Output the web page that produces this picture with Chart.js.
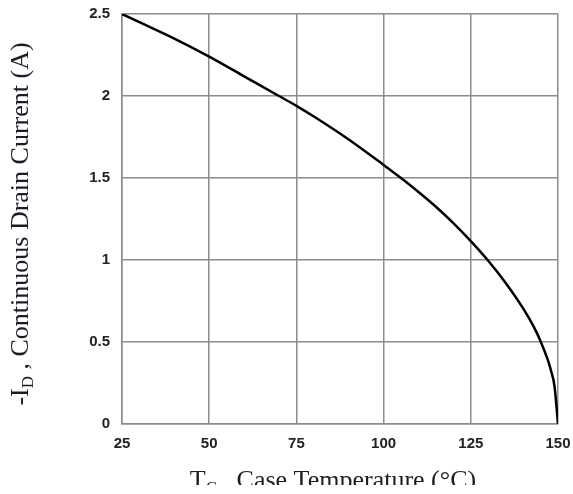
<!DOCTYPE html>
<html>
<head>
<meta charset="utf-8">
<script src="https://cdn.jsdelivr.net/npm/chart.js@4/dist/chart.umd.min.js"></script>
<style>
    html, body { margin: 0; padding: 0; background: #fff; }
    #wrap { width: 573px; height: 494px; }
</style>
</head>
<body>
<div id="wrap"><canvas id="chart" width="573" height="494"></canvas></div>
<script>
// Valeurs
const temperatures = [25, 30, 40, 50, 60, 70, 75, 80, 90, 100, 105, 110, 115, 120, 125, 130, 135, 140, 143, 145, 147, 148, 149, 150];
const drainCurrent = [2.5, 2.45, 2.35, 2.24, 2.12, 2.0, 1.94, 1.875, 1.735, 1.58, 1.5, 1.415, 1.325, 1.225, 1.115, 0.995, 0.86, 0.705, 0.595, 0.505, 0.395, 0.325, 0.23, 0];
const xTicks = [25, 50, 75, 100, 125, 150];
const yTicks = [0, 0.5, 1, 1.5, 2, 2.5];

const serif = '"Liberation Serif", "Times New Roman", serif';

// Titres d'axes avec indices (D, C)
const axisTitles = {
    id: 'axisTitles',
    afterDraw(chart) {
        const ctx = chart.ctx;
        ctx.save();
        ctx.fillStyle = '#1c1c28';
        ctx.textBaseline = 'alphabetic';
        ctx.textAlign = 'left';

        const drawTitle = (main, sub, rest, size) => {
            const subSize = Math.round(size * 0.65);
            ctx.font = size + 'px ' + serif;
            const w1 = ctx.measureText(main).width;
            const w3 = ctx.measureText(rest).width;
            ctx.font = subSize + 'px ' + serif;
            const w2 = ctx.measureText(sub).width;
            let x = -(w1 + w2 + w3) / 2;
            ctx.font = size + 'px ' + serif;
            ctx.fillText(main, x, 0);
            x += w1;
            ctx.font = subSize + 'px ' + serif;
            ctx.fillText(sub, x, size * 0.2);
            x += w2;
            ctx.font = size + 'px ' + serif;
            ctx.fillText(rest, x, 0);
        };

        // titre Y (vertical)
        ctx.save();
        ctx.translate(28, 224);
        ctx.rotate(-Math.PI / 2);
        drawTitle('-I', 'D', ' , Continuous Drain Current (A)', 26);
        ctx.restore();

        // titre X (coupé en bas comme sur l'original)
        ctx.save();
        ctx.beginPath();
        ctx.rect(0, 440, chart.width, 45);
        ctx.clip();
        ctx.translate(333, 488);
        drawTitle('T', 'C', ' , Case Temperature (°C)', 26);
        ctx.restore();

        ctx.restore();
    }
};

const ctx = document.getElementById('chart');

new Chart(ctx, {
    type: 'line',
    data: {
        datasets: [{
            data: temperatures.map((t, i) => ({ x: t, y: drainCurrent[i] })),
            borderColor: '#000',
            borderWidth: 2.5,
            pointRadius: 0,
            fill: false,
            cubicInterpolationMode: 'monotone'
        }]
    },
    options: {
        responsive: false,
        animation: false,
        layout: { padding: { top: 14, right: 15, left: 0, bottom: 0 } },
        plugins: {
            legend: { display: false },
            tooltip: { enabled: false }
        },
        scales: {
            x: {
                type: 'linear',
                min: 25,
                max: 150,
                afterBuildTicks: (axis) => { axis.ticks = xTicks.map(v => ({ value: v })); },
                afterFit: (axis) => {
                    axis.height = 70;
                    axis.paddingLeft = 0;
                    axis.paddingRight = 0;
                },
                grid: { color: '#8c8c8c', lineWidth: 1.5, drawTicks: false },
                border: { color: '#8c8c8c', width: 1.5 },
                ticks: {
                    color: '#222',
                    padding: 11,
                    font: { family: '"Liberation Sans", Arial, sans-serif', size: 15, weight: 'bold' }
                }
            },
            y: {
                min: 0,
                max: 2.5,
                afterBuildTicks: (axis) => { axis.ticks = yTicks.map(v => ({ value: v })); },
                afterFit: (axis) => {
                    axis.width = 122;
                    axis.paddingTop = 0;
                    axis.paddingBottom = 0;
                },
                grid: { color: '#8c8c8c', lineWidth: 1.5, drawTicks: false },
                border: { color: '#8c8c8c', width: 1.5 },
                ticks: {
                    color: '#222',
                    padding: 12,
                    callback: (value) => String(value),
                    font: { family: '"Liberation Sans", Arial, sans-serif', size: 15, weight: 'bold' }
                }
            }
        }
    },
    plugins: [axisTitles]
});
</script>
</body>
</html>
